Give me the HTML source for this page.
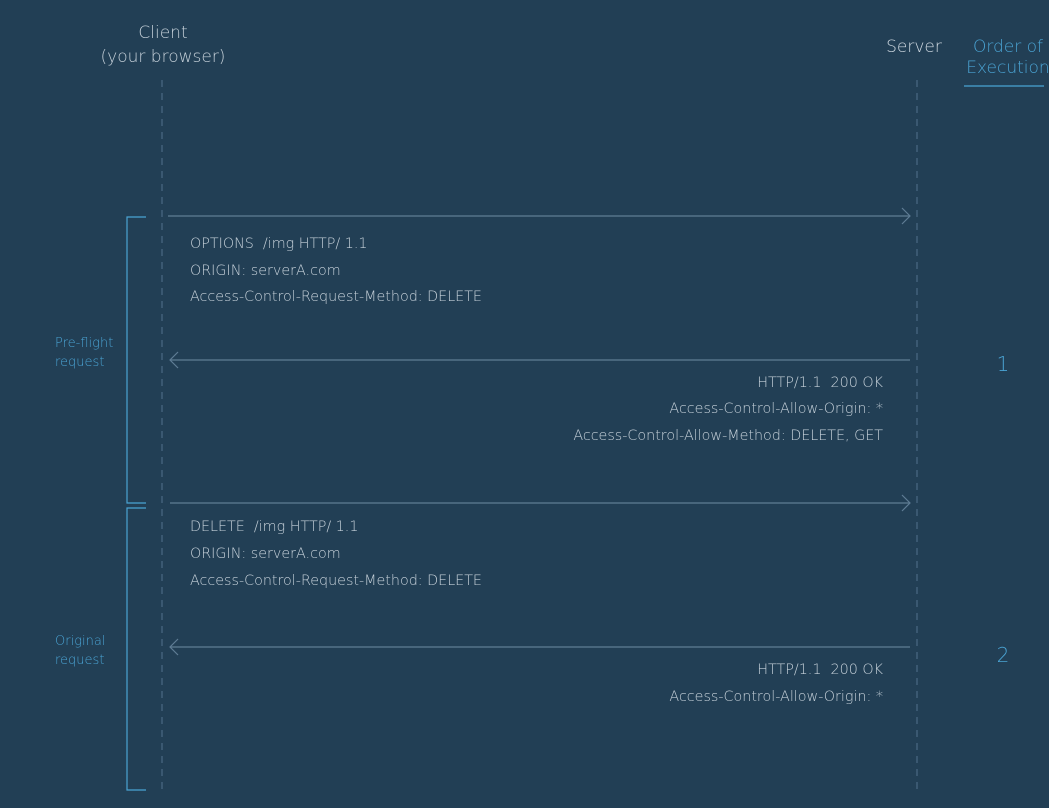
<!DOCTYPE html>
<html><head><style>
html,body{margin:0;padding:0;background:#223f55;}
svg{display:block;font-family:"DejaVu Sans","Liberation Sans",sans-serif;}
</style></head><body>
<svg width="1049" height="808" viewBox="0 0 1049 808" xmlns="http://www.w3.org/2000/svg">
<rect width="1049" height="808" fill="#223f55"/>
<g font-size="17" fill="#c5d0d9" font-weight="200">
<text x="163" y="38" text-anchor="middle">Client</text>
<text x="163" y="62" text-anchor="middle">(your browser)</text>
<text x="914" y="52" text-anchor="middle" fill="#d0dae2">Server</text>
</g>
<g font-size="17" fill="#4aa3d3" font-weight="200">
<text x="1008" y="52" text-anchor="middle">Order of</text>
<text x="1008" y="73" text-anchor="middle">Execution</text>
</g>
<line x1="964" y1="86" x2="1044" y2="86" stroke="#4aa3d3" stroke-width="1.2"/>
<g stroke="#4a6a84" stroke-width="1.2" stroke-dasharray="7,6">
<line x1="162" y1="80" x2="162" y2="792"/>
<line x1="917" y1="80" x2="917" y2="792"/>
</g>
<g stroke="#5f7d95" stroke-width="1.2" fill="none">
<line x1="168" y1="216" x2="910" y2="216"/><polyline points="902,208 910,216 902,224"/>
<line x1="170" y1="360" x2="910" y2="360"/><polyline points="178,352 170,360 178,368"/>
<line x1="170" y1="503" x2="910" y2="503"/><polyline points="902,495 910,503 902,511"/>
<line x1="170" y1="647" x2="910" y2="647"/><polyline points="178,639 170,647 178,655"/>
</g>
<g stroke="#4aa3d3" stroke-width="1.2" fill="none">
<polyline points="146,217 127,217 127,503 146,503"/>
<polyline points="146,508 127,508 127,790 146,790"/>
</g>
<g font-size="13" fill="#4aa3d3" font-weight="200">
<text x="55" y="347">Pre-flight</text>
<text x="55" y="366">request</text>
<text x="55" y="645">Original</text>
<text x="55" y="664">request</text>
</g>
<g font-size="20" fill="#4aa3d3" font-weight="200">
<text x="1003" y="371" text-anchor="middle">1</text>
<text x="1003" y="662" text-anchor="middle">2</text>
</g>
<g font-size="14.3" fill="#c5d0d9" font-weight="200">
<text x="190" y="248">OPTIONS&#160;&#160;/img HTTP/ 1.1</text>
<text x="190" y="275">ORIGIN: serverA.com</text>
<text x="190" y="301">Access-Control-Request-Method: DELETE</text>
<text x="883" y="387" text-anchor="end">HTTP/1.1&#160;&#160;200 OK</text>
<text x="883" y="413" text-anchor="end">Access-Control-Allow-Origin: *</text>
<text x="883" y="440" text-anchor="end">Access-Control-Allow-Method: DELETE, GET</text>
<text x="190" y="531">DELETE&#160;&#160;/img HTTP/ 1.1</text>
<text x="190" y="558">ORIGIN: serverA.com</text>
<text x="190" y="585">Access-Control-Request-Method: DELETE</text>
<text x="883" y="674" text-anchor="end">HTTP/1.1&#160;&#160;200 OK</text>
<text x="883" y="701" text-anchor="end">Access-Control-Allow-Origin: *</text>
</g>
</svg>
</body></html>
